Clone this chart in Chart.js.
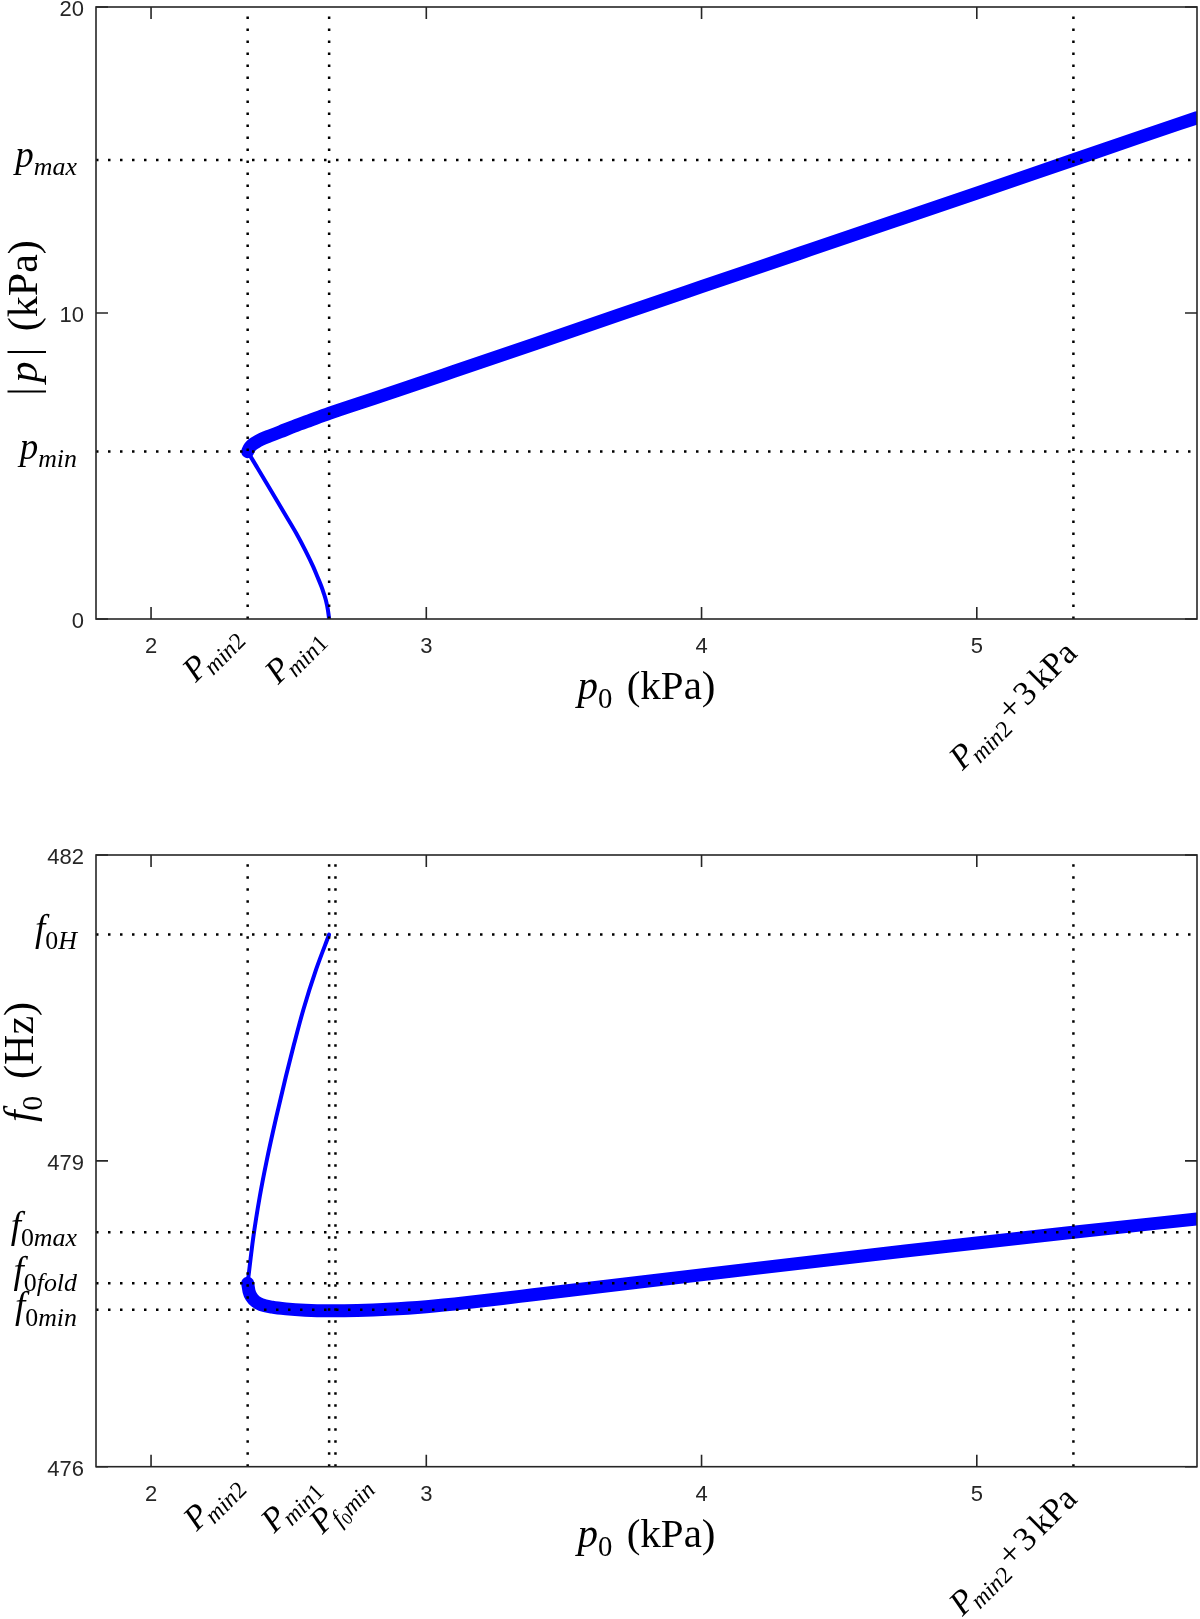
<!DOCTYPE html>
<html lang="en">
<head>
<meta charset="UTF-8">
<title>|p| and f0 versus p0</title>
<script src="https://cdn.jsdelivr.net/npm/chart.js"></script>
<style>
  html, body { margin: 0; padding: 0; background: #fff; }
  #wrap { position: relative; width: 1200px; height: 1619px; }
  canvas { position: absolute; left: 0; }
  #ampChart { top: 0; }
  #freqChart { top: 800px; }
</style>
</head>
<body>
<div id="wrap">
  <canvas id="ampChart" width="1200" height="800"></canvas>
  <canvas id="freqChart" width="1200" height="819"></canvas>
</div>
<script>
// ---- data ----
const xRange = [1.8, 5.8];
const xTicks = [2, 3, 4, 5];
const ampTicks = [0, 10, 20];
const freqTicks = [476, 479, 482];

// marker positions (kPa): Pmin2, Pmin1, Pmin2 + 3 kPa
const p0Marks = [2.351, 2.647, 5.351];
// bottom panel adds Pf0min
const p0MarksFreq = [2.351, 2.647, 2.670, 5.351];
// pmin, pmax (kPa)
const ampMarks = [5.47, 15.0];
// f0H, f0max, f0fold, f0min (Hz)
const freqMarks = [481.22, 478.30, 477.80, 477.54];

// |p| : stable (thick) branch
const ampStableX = [2.351, 2.356, 2.365, 2.38, 2.40, 2.43, 2.47, 2.52, 2.58, 2.647, 2.75, 2.9, 3.1, 3.4, 3.7, 4.0, 4.36, 4.7, 5.0, 5.35, 5.6, 5.8];
const ampStableY = [5.47, 5.57, 5.67, 5.77, 5.87, 5.98, 6.12, 6.30, 6.50, 6.72, 7.03, 7.48, 8.09, 9.01, 9.94, 10.86, 11.96, 13.0, 13.92, 15.0, 15.77, 16.38];
// |p| : unstable (thin) branch
const ampUnstableX = [2.351, 2.3837, 2.4203, 2.456, 2.4915, 2.5275, 2.560, 2.589, 2.6045, 2.619, 2.6275, 2.635, 2.6425, 2.647];
const ampUnstableY = [5.47, 4.98, 4.43, 3.89, 3.35, 2.80, 2.25, 1.71, 1.38, 1.06, 0.84, 0.62, 0.30, 0];

// f0 : stable (thick) branch
const freqStableX = [2.351, 2.356, 2.366, 2.38, 2.40, 2.44, 2.49, 2.56, 2.65, 2.75, 2.86, 3.0, 3.15, 3.34, 3.63, 4.19, 4.74, 5.35, 5.8];
const freqStableY = [477.80, 477.72, 477.66, 477.62, 477.59, 477.565, 477.548, 477.535, 477.53, 477.533, 477.544, 477.569, 477.61, 477.671, 477.764, 477.943, 478.115, 478.30, 478.43];
// f0 : unstable (thin) branch
const freqUnstableX = [2.351, 2.371, 2.395, 2.420, 2.455, 2.490, 2.520, 2.553, 2.600, 2.647];
const freqUnstableY = [477.80, 478.24, 478.65, 479.00, 479.43, 479.83, 480.15, 480.48, 480.88, 481.22];

// ---- text helpers (LaTeX-like labels) ----
const SERIF = '"Liberation Serif", "Times New Roman", serif';
const SANS = '"Liberation Sans", Arial, Helvetica, sans-serif';
const INK = '#262626';

function segFont(s, size) {
  const sz = s.sub === 2 ? size * 0.5 : s.sub ? size * 0.7 : size;
  return (s.it ? 'italic ' : '') + sz.toFixed(1) + 'px ' + SERIF;
}
function segShift(s, size) {
  return s.sub === 2 ? size * 0.34 : s.sub ? size * 0.22 : 0;
}
function richWidth(ctx, segs, size) {
  let w = 0;
  segs.forEach(s => { ctx.font = segFont(s, size); w += (s.gap || 0) * size + ctx.measureText(s.t).width; });
  return w;
}
function drawRich(ctx, segs, x, y, size, align, angle) {
  ctx.save();
  ctx.translate(x, y);
  ctx.rotate(angle || 0);
  ctx.fillStyle = '#000';
  ctx.textBaseline = 'alphabetic';
  ctx.textAlign = 'left';
  const w = richWidth(ctx, segs, size);
  let cx = align === 'right' ? -w : align === 'center' ? -w / 2 : 0;
  segs.forEach(s => {
    ctx.font = segFont(s, size);
    cx += (s.gap || 0) * size;
    ctx.fillText(s.t, cx, segShift(s, size));
    cx += ctx.measureText(s.t).width;
  });
  ctx.restore();
}

const lblPmin2 = [{ t: 'P', it: 1 }, { t: 'min', it: 1, sub: 1, gap: -0.1 }, { t: '2', sub: 1 }];
const lblPmin1 = [{ t: 'P', it: 1 }, { t: 'min', it: 1, sub: 1, gap: -0.1 }, { t: '1', sub: 1 }];
const lblPf0min = [{ t: 'P', it: 1 }, { t: 'f', it: 1, sub: 1, gap: -0.08 }, { t: '0', sub: 2 }, { t: 'min', it: 1, sub: 1 }];
const lblP3 = [{ t: 'P', it: 1 }, { t: 'min', it: 1, sub: 1, gap: -0.1 }, { t: '2', sub: 1 },
  { t: '+', gap: 0.1 }, { t: '3', gap: 0.1 }, { t: 'kPa', gap: 0.16 }];

// frame: box, inward ticks, tick numbers, custom labels
const framePlugin = {
  id: 'frame',
  afterDraw(chart, args, opts) {
    const ctx = chart.ctx, a = chart.chartArea;
    const xs = chart.scales.x, ys = chart.scales.y;
    ctx.save();
    ctx.strokeStyle = INK;
    ctx.lineWidth = 1.6;
    ctx.strokeRect(a.left, a.top, a.right - a.left, a.bottom - a.top);
    const tl = 12;
    ctx.beginPath();
    xs.ticks.forEach(t => {
      const px = xs.getPixelForValue(t.value);
      ctx.moveTo(px, a.bottom); ctx.lineTo(px, a.bottom - tl);
      ctx.moveTo(px, a.top); ctx.lineTo(px, a.top + tl);
    });
    ys.ticks.forEach(t => {
      const py = ys.getPixelForValue(t.value);
      ctx.moveTo(a.left, py); ctx.lineTo(a.left + tl, py);
      ctx.moveTo(a.right, py); ctx.lineTo(a.right - tl, py);
    });
    ctx.stroke();

    ctx.fillStyle = INK;
    ctx.font = '22px ' + SANS;
    ctx.textAlign = 'center';
    ctx.textBaseline = 'top';
    xs.ticks.forEach(t => ctx.fillText(String(t.value), xs.getPixelForValue(t.value), a.bottom + 17));
    ctx.textAlign = 'right';
    ctx.textBaseline = 'middle';
    ys.ticks.forEach(t => ctx.fillText(String(t.value), a.left - 12, ys.getPixelForValue(t.value) + 3));
    ctx.restore();

    (opts.yLabels || []).forEach(l => {
      drawRich(ctx, l.segs, 77, ys.getPixelForValue(l.v) + l.dy, 37, 'right', 0);
    });
    (opts.xLabels || []).forEach(l => {
      drawRich(ctx, l.segs, xs.getPixelForValue(l.v) + l.dx, a.bottom + l.dy, 34, 'left', -Math.PI / 4);
    });
    const cxm = (a.left + a.right) / 2;
    drawRich(ctx, [{ t: 'p', it: 1 }, { t: '0', sub: 1 }, { t: '(kPa)', gap: 0.35 }], cxm, a.bottom + 80, 41, 'center', 0);
    const yt = opts.yTitle;
    drawRich(ctx, yt.segs, yt.x, yt.y, 42, 'center', -Math.PI / 2);
  }
};
Chart.register(framePlugin);

function pts(xs, ys) { return xs.map((x, i) => ({ x: x, y: ys[i] })); }
function dotted(data) {
  return { data: data, borderColor: '#000', borderWidth: 2.5, borderDash: [2.5, 9.5], pointRadius: 0, showLine: true, clip: 0 };
}
function curve(data, w) {
  return { data: data, borderColor: '#0000ff', borderWidth: w, pointRadius: 0, showLine: true,
    cubicInterpolationMode: 'monotone', borderCapStyle: 'round', borderJoinStyle: 'round', clip: 0 };
}

function makeChart(id, c) {
  const refs = [];
  c.vMarks.forEach(v => refs.push(dotted([{ x: v, y: c.yMin }, { x: v, y: c.yMax }])));
  c.hMarks.forEach(v => refs.push(dotted([{ x: xRange[0], y: v }, { x: xRange[1], y: v }])));
  return new Chart(document.getElementById(id), {
    type: 'scatter',
    data: { datasets: refs.concat([curve(c.thin, 4), curve(c.thick, 13)]) },
    options: {
      responsive: false,
      animation: false,
      events: [],
      layout: { padding: { top: c.padTop, right: 3, left: 0, bottom: 0 } },
      plugins: { legend: { display: false }, tooltip: { enabled: false }, frame: c.frame },
      scales: {
        x: {
          type: 'linear', min: xRange[0], max: xRange[1],
          afterBuildTicks: s => { s.ticks = xTicks.map(v => ({ value: v })); },
          afterFit: s => { s.height = c.xAxisH; },
          grid: { display: false, drawTicks: false },
          border: { display: false },
          ticks: { display: false }
        },
        y: {
          type: 'linear', min: c.yMin, max: c.yMax,
          afterBuildTicks: s => { s.ticks = c.yTicks.map(v => ({ value: v })); },
          afterFit: s => { s.width = 96; },
          grid: { display: false, drawTicks: false },
          border: { display: false },
          ticks: { display: false }
        }
      }
    }
  });
}

makeChart('ampChart', {
  yMin: 0, yMax: 20, yTicks: ampTicks, padTop: 7, xAxisH: 181,
  vMarks: p0Marks, hMarks: ampMarks,
  thin: pts(ampUnstableX, ampUnstableY), thick: pts(ampStableX, ampStableY),
  frame: {
    yLabels: [
      { segs: [{ t: 'p', it: 1 }, { t: 'min', it: 1, sub: 1 }], v: ampMarks[0], dy: 7 },
      { segs: [{ t: 'p', it: 1 }, { t: 'max', it: 1, sub: 1 }], v: ampMarks[1], dy: 7 }
    ],
    xLabels: [
      { segs: lblPmin2, v: p0Marks[0], dx: -52, dy: 64 },
      { segs: lblPmin1, v: p0Marks[1], dx: -51, dy: 66 },
      { segs: lblP3, v: p0Marks[2], dx: -111, dy: 152 }
    ],
    yTitle: { segs: [{ t: '|' }, { t: 'p', it: 1, gap: 0.12 }, { t: '|', gap: 0.12 }, { t: '(kPa)', gap: 0.4 }], x: 37, y: 318 }
  }
});

makeChart('freqChart', {
  yMin: 476, yMax: 482, yTicks: freqTicks, padTop: 55, xAxisH: 152.3,
  vMarks: p0MarksFreq, hMarks: freqMarks,
  thin: pts(freqUnstableX, freqUnstableY), thick: pts(freqStableX, freqStableY),
  frame: {
    yLabels: [
      { segs: [{ t: 'f', it: 1 }, { t: '0', sub: 1 }, { t: 'H', it: 1, sub: 1 }], v: freqMarks[0], dy: 6 },
      { segs: [{ t: 'f', it: 1 }, { t: '0', sub: 1 }, { t: 'max', it: 1, sub: 1 }], v: freqMarks[1], dy: 6 },
      { segs: [{ t: 'f', it: 1 }, { t: '0', sub: 1 }, { t: 'fold', it: 1, sub: 1 }], v: freqMarks[2], dy: 0 },
      { segs: [{ t: 'f', it: 1 }, { t: '0', sub: 1 }, { t: 'min', it: 1, sub: 1 }], v: freqMarks[3], dy: 8 }
    ],
    xLabels: [
      { segs: lblPmin2, v: p0MarksFreq[0], dx: -51, dy: 65 },
      { segs: lblPmin1, v: p0MarksFreq[1], dx: -55, dy: 67 },
      { segs: lblPf0min, v: p0MarksFreq[2], dx: -13, dy: 68 },
      { segs: lblP3, v: p0MarksFreq[3], dx: -111, dy: 150 }
    ],
    yTitle: { segs: [{ t: 'f', it: 1 }, { t: '0', sub: 1 }, { t: '(Hz)', gap: 0.4 }], x: 33, y: 262 }
  }
});
</script>
</body>
</html>
